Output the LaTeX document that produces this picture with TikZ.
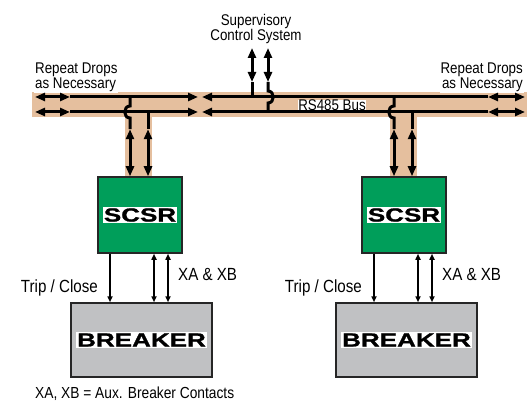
\documentclass[tikz,border=0pt]{standalone}
\usepackage{fontspec}
\setmainfont{Liberation Sans}[FakeStretch=0.86]
\newfontfamily\blockfont{Liberation Sans}[FakeStretch=1.37,FakeBold=1.2]
\usepackage{xcolor}
\usepackage{tikz}
\usetikzlibrary{arrows.meta, positioning}
\definecolor{busfill}{RGB}{229,191,158}
\definecolor{scsrgreen}{RGB}{0,158,90}
\definecolor{brkgray}{RGB}{192,193,195}
\tikzset{
  busline/.style={line width=3pt},
  busarr/.style={-{Triangle[length=10pt,width=8pt]}},
  busdbl/.style={{Triangle[length=10pt,width=8pt]}-{Triangle[length=10pt,width=8pt]}},
  sigline/.style={line width=1.6pt},
  sigarr/.style={-{Triangle[length=6pt,width=5pt]}},
  sigdbl/.style={{Triangle[length=6pt,width=5pt]}-{Triangle[length=6pt,width=5pt]}},
  scsrbox/.style={draw=black!85,line width=1.5pt,fill=scsrgreen,minimum width=84pt,minimum height=76pt,inner sep=0pt},
  brkbox/.style={draw=black!85,line width=1.5pt,fill=brkgray,minimum width=141pt,minimum height=74pt,inner sep=0pt},
  blocklabel/.style={fill=white,inner sep=1pt,font=\blockfont\bfseries\fontsize{19}{19}\selectfont},
  buslbl/.style={inner sep=1pt,font=\fontsize{15.5}{15.5}\selectfont},
  siglbl/.style={inner sep=1pt,font=\fontsize{17.6}{18}\selectfont}
}

\begin{document}
\begin{tikzpicture}[x=1pt,y=-1pt]
\useasboundingbox (0,0) rectangle (532,403);
\fill[busfill] (32,92) rectangle (527,117);
\fill[busfill] (125,117) rectangle (152,178);
\fill[busfill] (390,117) rectangle (417,178);

\node[scsrbox] (scsrL) at (140,215) {};
\node[scsrbox] (scsrR) at (404,215) {};
\node[brkbox] (brkL) at (141.5,340) {};
\node[brkbox] (brkR) at (406.5,340) {};
\node[blocklabel] (scsrLtxt) at (scsrL) {SCSR};
\node[blocklabel] (scsrRtxt) at (scsrR) {SCSR};
\node[blocklabel] (brkLtxt) at (brkL) {BREAKER};
\node[blocklabel] (brkRtxt) at (brkR) {BREAKER};

\node[buslbl,align=center] (suptxt) at (256,29) {Supervisory\\Control System};
\node[buslbl,align=left,fill=white,anchor=south west] (repL) at (34,93) {Repeat Drops\\as Necessary};
\node[buslbl,align=right,fill=white,anchor=south east] (repR) at (524,93) {Repeat Drops\\as Necessary};
\node[buslbl,fill=white,inner sep=0.5pt] (rs485) at (332,105.5) {RS485 Bus};

\coordinate (tW) at (35,97);
\coordinate (tWm) at (70,97);
\coordinate (tC1) at (198,97);
\coordinate (tC2) at (202,97);
\coordinate (tEm) at (488,97);
\coordinate (tE) at (525,97);
\coordinate (bW) at (35,112);
\coordinate (bWm) at (70,112);
\coordinate (bC1) at (198,112);
\coordinate (bC2) at (202,112);
\coordinate (bEm) at (488,112);
\coordinate (bE) at (525,112);
\draw[busline,busdbl] (tW) -- (tWm);
\draw[busline,busarr] (tWm) -- (tC1);
\draw[busline,busarr] (tEm) -- (tC2);
\draw[busline,busdbl] (tEm) -- (tE);
\draw[busline,busdbl] (bW) -- (bWm);
\draw[busline,busarr] (bWm) -- (bC1);
\draw[busline,busarr] (bEm) -- (bC2);
\draw[busline,busdbl] (bEm) -- (bE);

\coordinate (supA) at (252,48);
\coordinate (supAm) at (252,82);
\coordinate (supB) at (268,48);
\coordinate (supBm) at (268,82);
\draw[busline,busdbl] (supA) -- (supAm);
\draw[busline] (supAm) -- (supAm |- tC2);
\draw[busline,busdbl] (supB) -- (supBm);
\draw[busline] (supBm) -- (268,91) .. controls (275,91) and (275,103) .. (268,103) -- (supBm |- bC2);

\foreach \s in {L,R}{
  \coordinate (dropA\s) at ([xshift=-10pt,yshift=47pt]scsr\s.north);
  \coordinate (dropB\s) at ([xshift=8pt,yshift=47pt]scsr\s.north);
  \draw[busline] (dropA\s |- tC1) -- ++(0,9) .. controls +(-7,0) and +(-7,0) .. ++(0,12) -- (dropA\s);
  \draw[busline,busdbl] (dropA\s) -- (dropA\s |- scsr\s.north);
  \draw[busline] (dropB\s |- bC1) -- (dropB\s);
  \draw[busline,busdbl] (dropB\s) -- (dropB\s |- scsr\s.north);
  \draw[sigline,sigarr] ([xshift=-30pt]scsr\s.south) -- ([xshift=-30pt]scsr\s.south |- brk\s.north);
  \draw[sigline,sigdbl] ([xshift=14pt]scsr\s.south) -- ([xshift=14pt]scsr\s.south |- brk\s.north);
  \draw[sigline,sigdbl] ([xshift=28pt]scsr\s.south) -- ([xshift=28pt]scsr\s.south |- brk\s.north);
  \node[siglbl,anchor=east,xshift=-41pt,yshift=-34pt] (trip\s) at (scsr\s.south) {Trip / Close};
  \node[siglbl,anchor=west,xshift=37pt,yshift=-21pt] (xab\s) at (scsr\s.south) {XA \& XB};
}
\node[siglbl,anchor=west,font=\fontsize{16}{16}\selectfont] (note) at (34,394) {XA, XB = Aux. Breaker Contacts};
\end{tikzpicture}
\end{document}
